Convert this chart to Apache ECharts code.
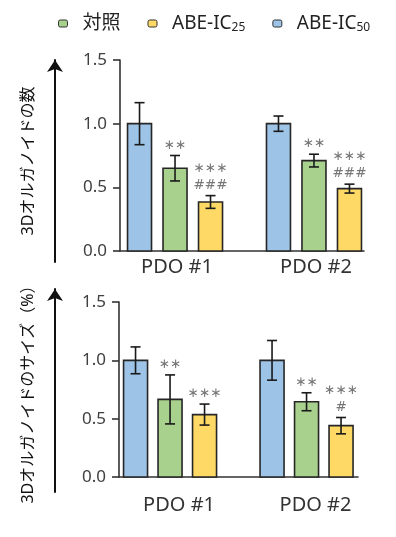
<!DOCTYPE html>
<html>
<head>
<meta charset="utf-8">
<script src="https://cdn.jsdelivr.net/npm/echarts@6/dist/echarts.min.js"></script>
<style>
  html, body { margin: 0; padding: 0; background: #fff; }
  #chart { width: 396px; height: 537px; }
</style>
</head>
<body>
<div id="chart"></div>
<script>
// categories
const groups = ['PDO #1', 'PDO #2']
const yTicks = [0, 0.5, 1.0, 1.5]

// 上段: 3Dオルガノイドの数
const countControl = [0.65, 0.71]
const countControlErr = [0.10, 0.05]
const countControlSig = ['∗∗', '∗∗']
const countIC25 = [0.385, 0.49]
const countIC25Err = [0.05, 0.035]
const countIC25Sig = ['∗∗∗\n###', '∗∗∗\n###']
const countIC50 = [1.0, 1.0]
const countIC50Err = [0.165, 0.06]
const countIC50Sig = ['', '']

// 下段: 3Dオルガノイドのサイズ（%）
const sizeControl = [0.665, 0.645]
const sizeControlErr = [0.21, 0.077]
const sizeControlSig = ['∗∗', '∗∗']
const sizeIC25 = [0.535, 0.44]
const sizeIC25Err = [0.09, 0.07]
const sizeIC25Sig = ['∗∗∗', '∗∗∗\n#']
const sizeIC50 = [1.0, 1.0]
const sizeIC50Err = [0.115, 0.17]
const sizeIC50Sig = ['', '']

const colors = {
  control: '#A9D18E',
  ic25: '#FFD966',
  ic50: '#9DC3E6'
}
const FONT = '"Noto Sans", "Noto Sans CJK JP", sans-serif'

// bar + error bar + significance marks, placed via the axis scales
function makeSeries(name, color, vals, errs, sigs, slot, panel, step) {
  return {
    name: name,
    type: 'custom',
    xAxisIndex: panel * 2,
    yAxisIndex: panel * 2,
    itemStyle: { color: color },
    data: vals.map((v, i) => [i + 1, v, errs[i]]),
    renderItem: (params, api) => {
      const g = api.value(0)
      const v = api.value(1)
      const e = api.value(2)
      const base = api.coord([g, 0])
      const top = api.coord([g, v])
      const hi = api.coord([g, v + e])[1]
      const lo = api.coord([g, v - e])[1]
      const x = base[0] + slot * step
      const w = 24
      const cap = 5
      const lineStyle = { stroke: '#1a1a1a', lineWidth: 1.6 }
      return {
        type: 'group',
        children: [
          {
            type: 'rect',
            shape: { x: x - w / 2, y: top[1], width: w, height: base[1] - top[1] },
            style: { fill: color, stroke: '#262626', lineWidth: 1.6 }
          },
          { type: 'line', shape: { x1: x, y1: hi, x2: x, y2: lo }, style: lineStyle },
          { type: 'line', shape: { x1: x - cap, y1: hi, x2: x + cap, y2: hi }, style: lineStyle },
          { type: 'line', shape: { x1: x - cap, y1: lo, x2: x + cap, y2: lo }, style: lineStyle },
          {
            type: 'text',
            style: {
              text: sigs[params.dataIndex],
              x: x,
              y: hi - 2,
              align: 'center',
              verticalAlign: 'bottom',
              fontFamily: 'DejaVu Sans',
              fontSize: 13.5,
              lineHeight: 17,
              fill: '#767676'
            }
          }
        ]
      }
    }
  }
}

function valueAxisY(gridIndex) {
  return {
    type: 'value',
    gridIndex: gridIndex,
    min: yTicks[0],
    max: yTicks[yTicks.length - 1],
    interval: 0.5,
    axisLine: { show: true, lineStyle: { color: '#333', width: 1.6 } },
    axisTick: { show: true, length: 7, lineStyle: { color: '#333', width: 1.6 } },
    axisLabel: {
      margin: 13,
      color: '#404040',
      fontSize: 17,
      fontFamily: FONT,
      formatter: (v) => v.toFixed(1)
    },
    splitLine: { show: false }
  }
}

function groupAxisX(gridIndex, min, max, labelPad, labelMargin) {
  return {
    type: 'value',
    gridIndex: gridIndex,
    min: min,
    max: max,
    axisLine: { show: true, onZero: false, lineStyle: { color: '#333', width: 1.6 } },
    axisTick: { show: false },
    splitLine: { show: false },
    axisLabel: {
      customValues: [1, 2],
      margin: labelMargin,
      padding: labelPad,
      color: '#333',
      fontSize: 20,
      fontFamily: FONT,
      formatter: (v) => groups[Math.round(v) - 1]
    }
  }
}

function arrowAxisY(gridIndex, title) {
  return {
    type: 'value',
    gridIndex: gridIndex,
    axisLine: {
      show: true,
      symbol: ['none', 'arrow'],
      symbolSize: [12, 12],
      lineStyle: { color: '#111', width: 2 }
    },
    axisTick: { show: false },
    axisLabel: { show: false },
    splitLine: { show: false },
    name: title,
    nameLocation: 'middle',
    nameGap: 19,
    nameTextStyle: { fontSize: 16, color: '#111', fontFamily: FONT }
  }
}

function hiddenX(gridIndex) {
  return { type: 'value', gridIndex: gridIndex, show: false }
}

const chart = echarts.init(document.getElementById('chart'), null, { renderer: 'canvas' })
chart.setOption({
  backgroundColor: '#fff',
  animation: false,
  textStyle: { fontFamily: FONT },
  legend: {
    left: 53,
    top: 9,
    itemWidth: 9,
    itemHeight: 7,
    itemGap: 27,
    icon: 'roundRect',
    itemStyle: { borderColor: '#333', borderWidth: 1 },
    data: ['対照', 'ABE-IC25', 'ABE-IC50'],
    formatter: (name) => {
      const m = name.match(/^(ABE-IC)(\d+)$/)
      return m ? '{n|' + m[1] + '}{s|' + m[2] + '}' : '{n|' + name + '}'
    },
    textStyle: {
      rich: {
        n: { fontSize: 19, color: '#222', padding: [0, 0, 0, 10], fontFamily: FONT },
        s: { fontSize: 12, color: '#222', padding: [9, 0, 0, 0], fontFamily: FONT }
      }
    }
  },
  grid: [
    { left: 120, top: 60, width: 244, height: 191 },
    { left: 55, top: 60, width: 1, height: 202 },
    { left: 119, top: 302, width: 239, height: 175 },
    { left: 55, top: 289, width: 1, height: 203 }
  ],
  xAxis: [
    groupAxisX(0, 0.604, 2.36, [0, 0, 0, 4], 6),
    hiddenX(1),
    groupAxisX(2, 0.626, 2.377, [0, 0, 0, 18], 18),
    hiddenX(3)
  ],
  yAxis: [
    valueAxisY(0),
    arrowAxisY(1, '3Dオルガノイドの数'),
    valueAxisY(2),
    arrowAxisY(3, '3Dオルガノイドのサイズ（%）')
  ],
  series: [
    makeSeries('ABE-IC50', colors.ic50, countIC50, countIC50Err, countIC50Sig, -1, 0, 35.5),
    makeSeries('対照', colors.control, countControl, countControlErr, countControlSig, 0, 0, 35.5),
    makeSeries('ABE-IC25', colors.ic25, countIC25, countIC25Err, countIC25Sig, 1, 0, 35.5),
    makeSeries('ABE-IC50', colors.ic50, sizeIC50, sizeIC50Err, sizeIC50Sig, -1, 1, 34.5),
    makeSeries('対照', colors.control, sizeControl, sizeControlErr, sizeControlSig, 0, 1, 34.5),
    makeSeries('ABE-IC25', colors.ic25, sizeIC25, sizeIC25Err, sizeIC25Sig, 1, 1, 34.5)
  ]
})
</script>
</body>
</html>
